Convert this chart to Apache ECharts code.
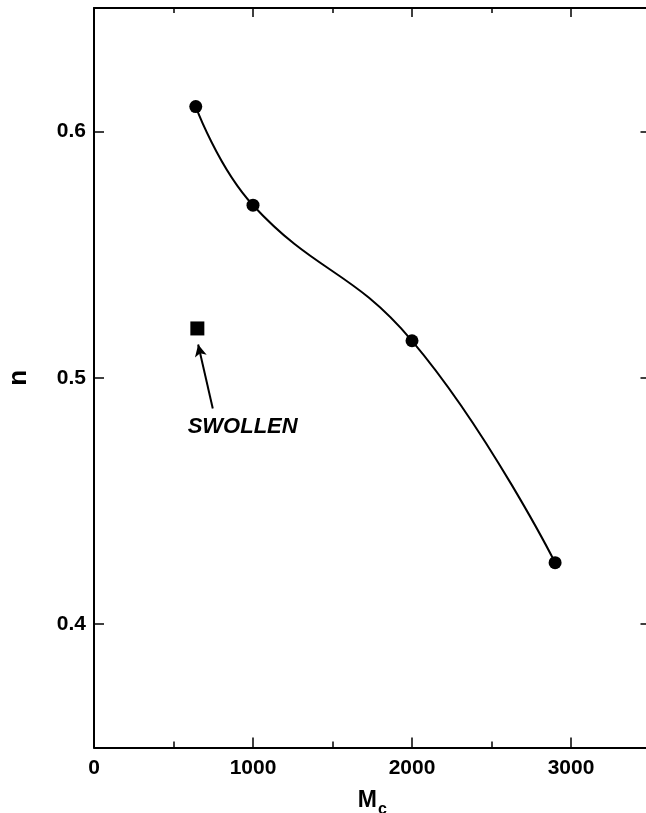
<!DOCTYPE html>
<html>
<head>
<meta charset="utf-8">
<script src="https://cdn.jsdelivr.net/npm/echarts@6/dist/echarts.min.js"></script>
<style>
  html, body { margin: 0; padding: 0; background: #fff; }
  #chart { width: 646px; height: 813px; }
</style>
</head>
<body>
<div id="chart"></div>
<script>
// Crosslink molecular weight Mc vs exponent n
const mcValues = [640, 1000, 2000, 2900];
const nValues = [0.61, 0.57, 0.515, 0.425];

// Swollen sample
const swollenMc = [650];
const swollenN = [0.52];

// Axis ticks
const xTickLabels = [0, 1000, 2000, 3000];
const xMajorTicks = [1000, 2000, 3000];
const xMinorTicks = [500, 1500, 2500, 3500];
const yTickLabels = [0.4, 0.5, 0.6];

// Annotation arrow and its caption (data units)
const arrowFrom = [747, 0.4875];
const arrowTo = [655, 0.5135];
const noteAt = [935, 0.4802];
const noteText = 'SWOLLEN';

const FONT = '"Liberation Sans", Arial, Helvetica, sans-serif';
const X_MIN = 0, X_MAX = 3500, Y_MIN = 0.35, Y_MAX = 0.65;

function xAxisBase(position, ticks, len, withLine) {
  return {
    type: 'value', min: X_MIN, max: X_MAX, position: position,
    axisLine: { show: withLine, onZero: false, lineStyle: { color: '#000', width: 2 } },
    axisTick: { show: true, inside: true, length: len, customValues: ticks,
                lineStyle: { color: '#000', width: 1.5 } },
    axisLabel: { show: false },
    splitLine: { show: false }
  };
}

const bottomMain = xAxisBase('bottom', xMajorTicks, 10, true);
bottomMain.axisLabel = {
  show: true, customValues: xTickLabels, margin: 10,
  color: '#000', fontFamily: FONT, fontWeight: 'bold', fontSize: 21,
  formatter: v => String(v)
};
bottomMain.name = '{m|M}{s|c}';
bottomMain.nameLocation = 'middle';
bottomMain.nameGap = 36;
bottomMain.nameTextStyle = {
  color: '#000',
  rich: {
    m: { fontFamily: FONT, fontWeight: 'bold', fontSize: 23, color: '#000' },
    s: { fontFamily: FONT, fontWeight: 'bold', fontSize: 16, color: '#000', padding: [18, 0, 0, 1] }
  }
};

const chart = echarts.init(document.getElementById('chart'), null, { renderer: 'canvas' });
chart.setOption({
  backgroundColor: '#fff',
  animation: false,
  grid: { left: 94, top: 8, width: 556.5, height: 739.5, show: false,
          containLabel: false, outerBoundsMode: 'none' },
  xAxis: [
    bottomMain,
    xAxisBase('bottom', xMinorTicks, 6, false),
    xAxisBase('top', xMajorTicks, 9, true),
    xAxisBase('top', xMinorTicks, 5, false)
  ],
  yAxis: [
    {
      type: 'value', min: Y_MIN, max: Y_MAX, position: 'left',
      axisLine: { show: true, onZero: false, lineStyle: { color: '#000', width: 2 } },
      axisTick: { show: true, inside: true, length: 10, customValues: yTickLabels,
                  lineStyle: { color: '#000', width: 1.5 } },
      axisLabel: { show: true, customValues: yTickLabels, margin: 8,
                   color: '#000', fontFamily: FONT, fontWeight: 'bold', fontSize: 21,
                   formatter: v => v.toFixed(1) },
      splitLine: { show: false },
      name: 'n', nameLocation: 'middle', nameGap: 62,
      nameTextStyle: { color: '#000', fontFamily: FONT, fontWeight: 'bold', fontSize: 26 }
    },
    {
      type: 'value', min: Y_MIN, max: Y_MAX, position: 'right',
      axisLine: { show: true, onZero: false, lineStyle: { color: '#000', width: 2 } },
      axisTick: { show: true, inside: true, length: 10, customValues: yTickLabels,
                  lineStyle: { color: '#000', width: 1.5 } },
      axisLabel: { show: false },
      splitLine: { show: false }
    }
  ],
  series: [
    {
      type: 'line',
      xAxisIndex: 0, yAxisIndex: 0,
      data: mcValues.map((x, i) => [x, nValues[i]]),
      smooth: 0.45,
      symbol: 'circle', symbolSize: 13,
      showAllSymbol: true,
      lineStyle: { color: '#000', width: 2 },
      itemStyle: { color: '#000', opacity: 1 }
    },
    {
      type: 'scatter',
      xAxisIndex: 0, yAxisIndex: 0,
      data: swollenMc.map((x, i) => [x, swollenN[i]]),
      symbol: 'rect', symbolSize: 14,
      itemStyle: { color: '#000', opacity: 1 },
      markLine: {
        silent: true,
        symbol: ['none', 'arrow'],
        symbolSize: [9, 12],
        lineStyle: { color: '#000', width: 2, type: 'solid' },
        label: { show: false },
        data: [[{ coord: arrowFrom }, { coord: arrowTo }]]
      },
      markPoint: {
        silent: true,
        symbol: 'circle', symbolSize: 1,
        itemStyle: { color: 'rgba(0,0,0,0)' },
        label: {
          show: true, position: 'inside', formatter: noteText,
          color: '#000', fontFamily: FONT, fontWeight: 'bold', fontStyle: 'italic', fontSize: 22
        },
        data: [{ coord: noteAt }]
      }
    }
  ]
});
</script>
</body>
</html>
